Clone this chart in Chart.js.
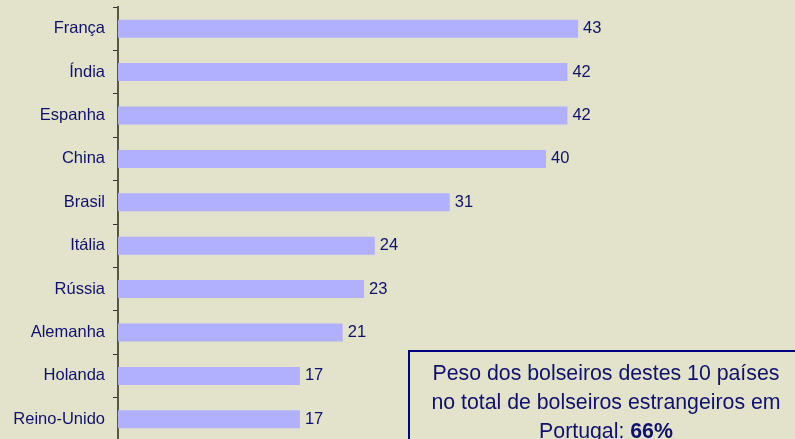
<!DOCTYPE html>
<html lang="pt-PT">
<head>
    <meta charset="UTF-8">
    <title>Bolseiros estrangeiros por país</title>
    <script src="https://cdn.jsdelivr.net/npm/chart.js"></script>
    <style>
        html, body {
            margin: 0;
            padding: 0;
            width: 795px;
            height: 439px;
            overflow: hidden;
            background: #e3e3cb; /* fundo bege */
            font-family: "Liberation Sans", Arial, sans-serif;
        }
        .wrap {
            position: relative;
            width: 795px;
            height: 439px;
            overflow: hidden;
        }
        canvas { position: absolute; left: 0; top: 0; }
        .nota {
            position: absolute;
            left: 408px;
            top: 350px;
            width: 396px;
            height: 120px;
            border: 2px solid #000080;
            box-sizing: border-box;
            color: #10106e;
            font-size: 21.3px;
            line-height: 29px;
            text-align: center;
            padding-top: 7px;
        }
    </style>
</head>
<body>
<div class="wrap">
    <canvas id="grafico" width="795" height="441"></canvas>
    <div class="nota">Peso dos bolseiros destes 10 países<br>no total de bolseiros estrangeiros em<br>Portugal: <b>66%</b></div>
</div>

<script>
    // dados
    const paises = ['França', 'Índia', 'Espanha', 'China', 'Brasil', 'Itália', 'Rússia', 'Alemanha', 'Holanda', 'Reino-Unido'];
    const bolseiros = [43, 42, 42, 40, 31, 24, 23, 21, 17, 17];

    const corTexto = '#10106e';

    // escreve o valor à frente de cada barra
    const valoresPlugin = {
        id: 'valores',
        afterDatasetsDraw(chart) {
            const ctx = chart.ctx;
            const meta = chart.getDatasetMeta(0);
            ctx.save();
            ctx.fillStyle = corTexto;
            ctx.font = '16.5px "Liberation Sans", Arial, sans-serif';
            ctx.textBaseline = 'middle';
            ctx.textAlign = 'left';
            meta.data.forEach((bar, i) => {
                ctx.fillText(bolseiros[i], bar.x + 5, bar.y);
            });
            ctx.restore();
        }
    };

    new Chart(document.getElementById('grafico'), {
        type: 'bar',
        data: {
            labels: paises,
            datasets: [{
                data: bolseiros,
                backgroundColor: '#b0b0ff',
                borderWidth: 0,
                barPercentage: 0.83,
                categoryPercentage: 0.5
            }]
        },
        options: {
            indexAxis: 'y',
            responsive: false,
            animation: false,
            layout: { autoPadding: false, padding: { top: 7, right: 142, bottom: 0, left: 0 } },
            plugins: {
                legend: { display: false },
                tooltip: { enabled: false }
            },
            scales: {
                x: {
                    display: false,
                    min: 0,
                    max: 50
                },
                y: {
                    afterFit(scale) {
                        scale.width = 118;
                        scale.paddingTop = 0;
                        scale.paddingBottom = 0;
                    },
                    grid: {
                        drawOnChartArea: false,
                        drawTicks: true,
                        tickLength: 5,
                        color: '#333333',
                        lineWidth: 1
                    },
                    border: { color: '#55554a', width: 2 },
                    ticks: {
                        color: corTexto,
                        padding: 8,
                        font: { family: '"Liberation Sans", Arial, sans-serif', size: 16.5 }
                    }
                }
            }
        },
        plugins: [valoresPlugin]
    });
</script>
</body>
</html>
